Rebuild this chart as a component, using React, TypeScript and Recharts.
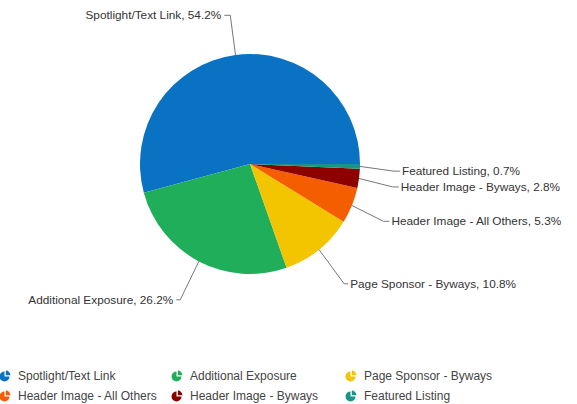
import React from 'react';
import { PieChart, Pie, Cell, Legend } from 'recharts';

const categories = [
  'Spotlight/Text Link',
  'Additional Exposure',
  'Page Sponsor - Byways',
  'Header Image - All Others',
  'Header Image - Byways',
  'Featured Listing',
];
const shares = [54.2, 26.2, 10.8, 5.3, 2.8, 0.7];
const colors = ['#0a72c2', '#21ae5b', '#f3c400', '#f45d00', '#8c0000', '#17958a'];

const data = categories.map((name, i) => ({ name, value: shares[i] }));

const RADIAN = Math.PI / 180;
const FONT = 'Arial, "Liberation Sans", sans-serif';

const renderLabel = (props: any) => {
  const { cx, cy, midAngle, outerRadius, name, value } = props;
  const cos = Math.cos(-midAngle * RADIAN);
  const sin = Math.sin(-midAngle * RADIAN);
  const sx = cx + outerRadius * cos;
  const sy = cy + outerRadius * sin;
  const ext = Math.abs(sin) > 0.5 ? 40 : 34;
  let off = 0;
  if (Math.abs(sin) < 0.2) off = 4;
  else if (sin > 0.2) off = 3;
  const mx = cx + (outerRadius + ext) * cos;
  const my = cy + (outerRadius + ext) * sin + off;
  const right = cos >= 0;
  const tail = sin > 0.5 ? 4 : 6;
  const ex = mx + (right ? tail : -tail);
  const tx = ex + (right ? 2 : -3);
  return (
    <g>
      <polyline
        points={`${sx},${sy} ${mx},${my} ${ex},${my}`}
        fill="none"
        stroke="#777"
        strokeWidth={1}
      />
      <text
        x={tx}
        y={my}
        dy={4}
        textAnchor={right ? 'start' : 'end'}
        fill="#333"
        fontSize={11.8}
        fontFamily={FONT}
      >
        {`${name}, ${value.toFixed(1)}%`}
      </text>
    </g>
  );
};

const LegendIcon = ({ color }: { color: string }) => (
  <svg width={12} height={12} viewBox="0 0 12 12" style={{ display: 'block' }}>
    <path d="M5.5,6.5 L5.5,1.5 A5,5 0 1 0 10.5,6.5 Z" fill={color} />
    <path d="M6.8,5.2 L6.8,0.6 A4.6,4.6 0 0 1 11.4,5.2 Z" fill={color} />
  </svg>
);

const renderLegend = () => {
  const colX = [0, 172, 346];
  return (
    <div style={{ position: 'relative', width: 577, height: 44, fontFamily: FONT, fontSize: 12, color: '#444' }}>
      {categories.map((c, i) => {
        const col = i % 3;
        const row = Math.floor(i / 3);
        return (
          <div
            key={c}
            style={{
              position: 'absolute',
              left: colX[col] - 1,
              top: row * 20,
              display: 'flex',
              alignItems: 'center',
              whiteSpace: 'nowrap',
              height: 16,
            }}
          >
            <LegendIcon color={colors[i]} />
            <span style={{ marginLeft: 7 }}>{c}</span>
          </div>
        );
      })}
    </div>
  );
};

export default function App() {
  return (
    <div style={{ position: 'absolute', left: 0, top: 0, width: 577, height: 404, background: '#fff' }}>
      <PieChart width={577} height={404} margin={{ top: 0, right: 0, bottom: 0, left: 0 }}>
        <Pie
          data={data}
          dataKey="value"
          nameKey="name"
          cx={250}
          cy={164}
          outerRadius={110}
          startAngle={0}
          endAngle={360}
          stroke="none"
          label={renderLabel}
          labelLine={false}
          isAnimationActive={false}
        >
          {data.map((d, i) => (
            <Cell key={d.name} fill={colors[i]} />
          ))}
        </Pie>
        <Legend
          content={renderLegend}
          wrapperStyle={{ left: 0, top: 368, width: 577, height: 44 }}
        />
      </PieChart>
    </div>
  );
}
